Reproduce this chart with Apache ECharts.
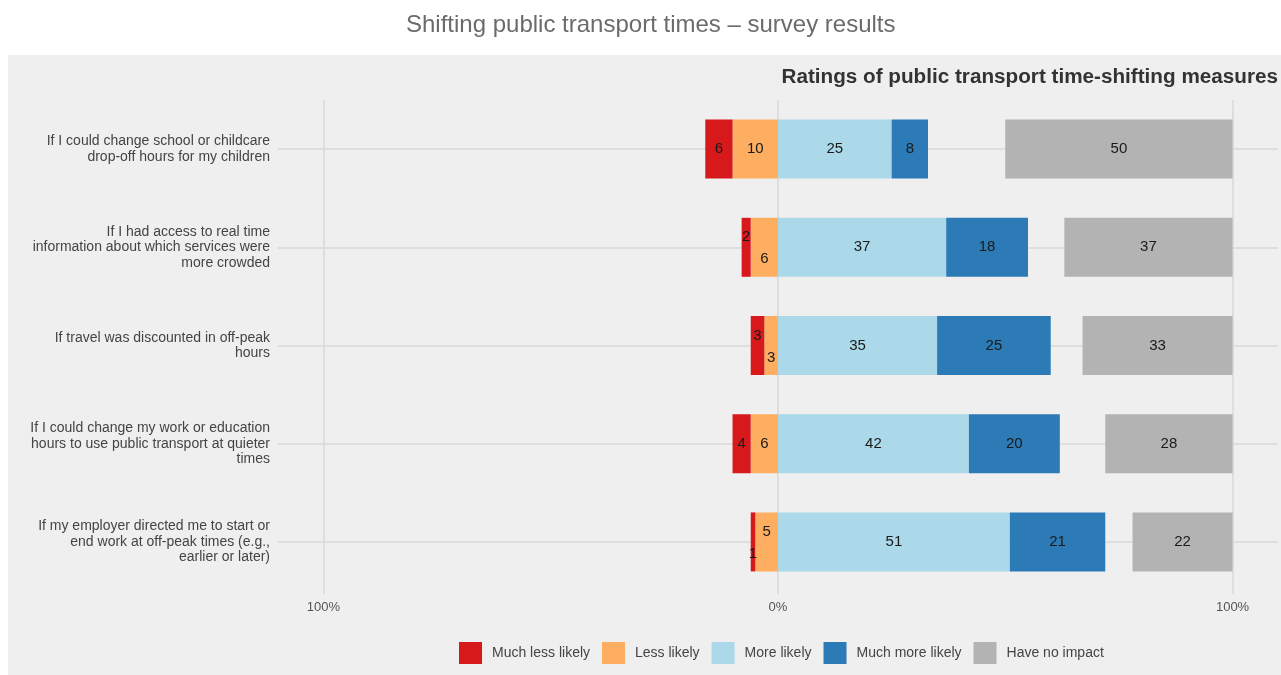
<!DOCTYPE html>
<html>
<head>
<meta charset="utf-8">
<title>Shifting public transport times – survey results</title>
<script src="https://cdn.jsdelivr.net/npm/echarts@6/dist/echarts.min.js"></script>
<style>
  html, body { margin: 0; padding: 0; background: #ffffff; }
  #chart { width: 1281px; height: 675px; }
</style>
</head>
<body>
<div id="chart"></div>
<script>
// Survey statements (top to bottom)
const categories = [
  'If I could change school or childcare\ndrop-off hours for my children',
  'If I had access to real time\ninformation about which services were\nmore crowded',
  'If travel was discounted in off-peak\nhours',
  'If I could change my work or education\nhours to use public transport at quieter\ntimes',
  'If my employer directed me to start or\nend work at off-peak times (e.g.,\nearlier or later)'
];

// Percentage of respondents per rating
const muchLessLikely = [6, 2, 3, 4, 1];
const lessLikely     = [10, 6, 3, 6, 5];
const moreLikely     = [25, 37, 35, 42, 51];
const muchMoreLikely = [8, 18, 25, 20, 21];
const haveNoImpact   = [50, 37, 33, 28, 22];

// Axis tick values and legend names
const xTicks = [-100, 0, 100];
const ratingNames = ['Much less likely', 'Less likely', 'More likely', 'Much more likely', 'Have no impact'];
const ratingColors = ['#d7191c', '#fdae61', '#abd9e9', '#2c7bb6', '#b3b3b3'];

// Where the two negative labels would collide, push them apart vertically
// (+1: "much less" label up, "less" label down; -1: the other way round)
const negLabelStagger = [0, 1, 1, 0, -1];

const FONT = '"Liberation Sans", Arial, Helvetica, sans-serif';
const BAR_W = 59;

function negData(values, isOuter) {
  return values.map((v, i) => {
    const s = negLabelStagger[i];
    let dy = 0;
    if (s !== 0) {
      const up = isOuter ? s > 0 : s < 0;
      dy = up ? -10 : 12;
    }
    return { value: -v, label: { offset: [0, dy] } };
  });
}

const labelStyle = {
  show: true,
  position: 'inside',
  color: '#1a1a1a',
  fontSize: 15,
  fontFamily: FONT,
  formatter: p => String(Math.abs(p.value))
};

function barSeries(name, data, stack, color, extra) {
  return Object.assign({
    name: name,
    type: 'bar',
    stack: stack,
    data: data,
    barWidth: BAR_W,
    barGap: '-100%',
    itemStyle: { color: color },
    label: labelStyle,
    z: 3
  }, extra || {});
}

const gridLineStyle = { color: '#d8d8d8', width: 1.5, type: 'solid' };

const option = {
  animation: false,
  backgroundColor: '#ffffff',
  textStyle: { fontFamily: FONT },
  graphic: [{
    type: 'rect',
    left: 8, top: 55,
    shape: { width: 1273, height: 620 },
    style: { fill: '#efefef' },
    z: -10,
    silent: true
  }],
  title: [{
    text: 'Shifting public transport times – survey results',
    left: 406, top: 13,
    padding: 0,
    textStyle: { color: '#6b6b6b', fontSize: 24, fontWeight: 'normal', fontFamily: FONT }
  }, {
    text: 'Ratings of public transport time-shifting measures',
    right: 3, top: 67,
    padding: 0,
    textStyle: { color: '#333333', fontSize: 20.7, fontWeight: 'bold', fontFamily: FONT }
  }],
  legend: {
    data: ratingNames,
    left: 459, top: 642,
    padding: 0,
    icon: 'rect',
    itemWidth: 23, itemHeight: 22,
    itemGap: 12,
    selectedMode: false,
    textStyle: { color: '#444444', fontSize: 14, fontFamily: FONT, padding: [0, 0, 0, 5] }
  },
  grid: { left: 278, right: 3, top: 100, bottom: 84, containLabel: false },
  xAxis: {
    type: 'value',
    min: -110, max: 110,
    axisLine: { show: false },
    splitLine: { show: false },
    axisTick: { show: true, customValues: xTicks, length: 3, lineStyle: gridLineStyle },
    axisLabel: {
      customValues: xTicks,
      margin: 10,
      color: '#555555',
      fontSize: 13,
      fontFamily: FONT,
      formatter: v => Math.abs(v) + '%'
    }
  },
  yAxis: {
    type: 'category',
    data: categories,
    inverse: true,
    axisLine: { show: false },
    axisTick: { show: false },
    splitLine: { show: false },
    axisLabel: {
      margin: 8,
      color: '#444444',
      fontSize: 14,
      lineHeight: 15.5,
      align: 'right',
      padding: [3, 0, 0, 0],
      fontFamily: FONT
    }
  },
  series: [
    // gridlines, drawn beneath the bars
    {
      name: 'grid',
      type: 'line',
      data: [],
      silent: true,
      z: 0,
      markLine: {
        silent: true,
        symbol: ['none', 'none'],
        z: 0,
        label: { show: false },
        lineStyle: gridLineStyle,
        emphasis: { disabled: true },
        data: xTicks.map(v => ({ xAxis: v }))
          .concat(categories.map((c, i) => ({ yAxis: i })))
      }
    },
    barSeries(ratingNames[1], negData(lessLikely, false), 'likely', ratingColors[1]),
    barSeries(ratingNames[0], negData(muchLessLikely, true), 'likely', ratingColors[0]),
    barSeries(ratingNames[2], moreLikely, 'likely', ratingColors[2]),
    barSeries(ratingNames[3], muchMoreLikely, 'likely', ratingColors[3]),
    // invisible spacer so the "no impact" bar ends at 100%
    barSeries('spacer', haveNoImpact.map(v => 100 - v), 'impact', 'rgba(0,0,0,0)', {
      label: { show: false }, silent: true, tooltip: { show: false }
    }),
    barSeries(ratingNames[4], haveNoImpact, 'impact', ratingColors[4])
  ]
};

const chart = echarts.init(document.getElementById('chart'), null, { renderer: 'canvas' });
chart.setOption(option);
</script>
</body>
</html>
